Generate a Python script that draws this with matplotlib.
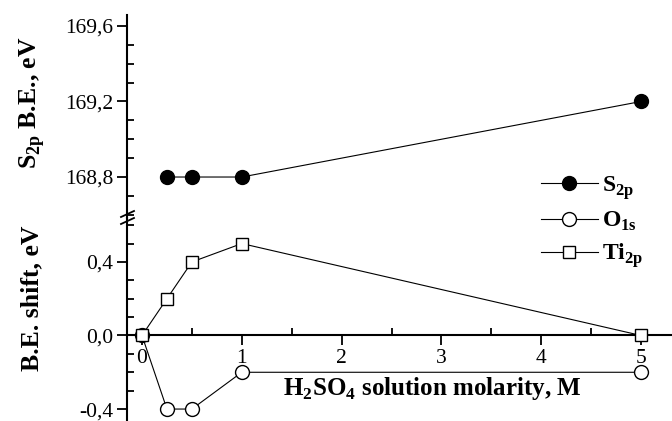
import matplotlib
matplotlib.use('Agg')
import matplotlib.pyplot as plt
from matplotlib.lines import Line2D
from matplotlib.ticker import MultipleLocator, FuncFormatter

plt.rcParams['font.family'] = 'serif'
plt.rcParams['font.serif'] = ['Liberation Serif', 'DejaVu Serif']
plt.rcParams['mathtext.fontset'] = 'custom'
plt.rcParams['mathtext.rm'] = 'Liberation Serif'
plt.rcParams['mathtext.bf'] = 'Liberation Serif:bold'

# data
s2p_x = [0.25, 0.5, 1, 5]
s2p_be = [168.8, 168.8, 168.8, 169.2]
shift_x = [0, 0.25, 0.5, 1, 5]
o1s_shift = [0, -0.4, -0.4, -0.2, -0.2]
ti2p_shift = [0, 0.2, 0.4, 0.5, 0]

W, H = 672, 421
fig = plt.figure(figsize=(W / 100, H / 100), dpi=100)

left = 127 / W
width = 1 - left
split = 1 - 218 / H
ax_top = fig.add_axes([left, split, width, (1 - 15 / H) - split])
ax_bot = fig.add_axes([left, 0, width, split])

xlim = (-0.15, 5.31)

# top panel: S2p binding energy
ax_top.plot(s2p_x, s2p_be, color='black', lw=0.8, marker='o', ms=10,
            mfc='black', mec='black', clip_on=False)
ax_top.set_xlim(*xlim)
ax_top.set_ylim(168.583, 169.658)
ax_top.set_xticks([])
for s in ['top', 'right', 'bottom']:
    ax_top.spines[s].set_visible(False)

# bottom panel: shifts
ax_bot.plot(shift_x, o1s_shift, color='black', lw=0.8, marker='o', ms=10,
            mfc='white', mec='black', mew=1.0, clip_on=False, zorder=3)
ax_bot.plot(shift_x, ti2p_shift, color='black', lw=0.8, marker='s', ms=9,
            mfc='white', mec='black', mew=1.0, clip_on=False, zorder=3)
ax_bot.set_xlim(*xlim)
ax_bot.set_ylim(-0.465, 0.639)
for s in ['top', 'right']:
    ax_bot.spines[s].set_visible(False)
ax_bot.spines['bottom'].set_position(('data', 0))
ax_bot.xaxis.set_major_locator(MultipleLocator(1))
ax_bot.xaxis.set_minor_locator(MultipleLocator(0.5))

comma = FuncFormatter(lambda v, p: f'{v:.1f}'.replace('.', ','))
ax_top.yaxis.set_major_locator(MultipleLocator(0.4))
ax_top.yaxis.set_minor_locator(MultipleLocator(0.1))
ax_top.yaxis.set_major_formatter(comma)
ax_bot.yaxis.set_major_locator(MultipleLocator(0.4))
ax_bot.yaxis.set_minor_locator(MultipleLocator(0.1))
ax_bot.yaxis.set_major_formatter(comma)

for ax in (ax_top, ax_bot):
    for s in ax.spines.values():
        s.set_linewidth(1.5)
    ax.tick_params(which='major', direction='out', length=7, width=1.3, labelsize=15.5, pad=3)
    ax.tick_params(which='minor', direction='in', length=5, width=1.3)
    ax.patch.set_visible(False)

# axis break marks
for yb in (214, 221):
    fig.add_artist(Line2D([121 / W, 134 / W], [1 - (yb + 3) / H, 1 - (yb - 3) / H],
                          color='black', lw=1.3))

fig.text(32 / W, 1 - 103 / H, r'S$_\mathbf{2p}$ B.E., eV', rotation=90,
         ha='center', va='center', fontsize=18.5, fontweight='bold')
fig.text(32 / W, 1 - 298 / H, 'B.E. shift, eV', rotation=90,
         ha='center', va='center', fontsize=18.5, fontweight='bold')
fig.text(432 / W, 1 - 389 / H, r'H$_\mathbf{2}$SO$_\mathbf{4}$ solution molarity, M',
         ha='center', va='center', fontsize=18, fontweight='bold')

handles = [
    Line2D([], [], color='black', lw=0.8, marker='o', ms=10, mfc='black', mec='black',
           label=r'S$_\mathbf{2p}$'),
    Line2D([], [], color='black', lw=0.8, marker='o', ms=10, mfc='white', mec='black',
           label=r'O$_\mathbf{1s}$'),
    Line2D([], [], color='black', lw=0.8, marker='s', ms=9, mfc='white', mec='black',
           label=r'Ti$_\mathbf{2p}$'),
]
leg = fig.legend(handles=handles, loc='center left', bbox_to_anchor=(541 / W, 1 - 222 / H),
                 frameon=False, handlelength=2.4, labelspacing=0.35, handletextpad=0.2,
                 borderaxespad=0, borderpad=0,
                 prop={'size': 17, 'weight': 'bold'})

fig.savefig('out.png', dpi=100)
